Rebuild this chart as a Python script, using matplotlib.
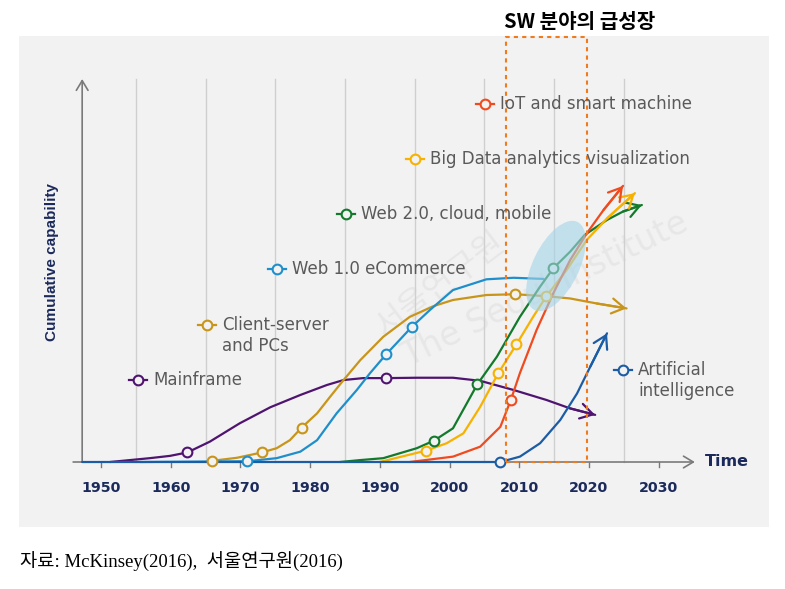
import matplotlib
matplotlib.use('Agg')
import matplotlib.pyplot as plt
from matplotlib.patches import Rectangle, Ellipse
from matplotlib.transforms import IdentityTransform

W, H = 785, 589

# 시리즈 데이터: 연도 / 누적 역량(0~100)
mainframe_x = [1951.3, 1957.0, 1959.9, 1962.4, 1965.6, 1969.9, 1974.3, 1978.6, 1982.4, 1984.8, 1987.6, 1990.9,
               1995.3, 2000.5, 2004.4, 2009.2, 2013.9, 2017.3, 2020.9]
mainframe_y = [0.0, 1.0, 1.6, 2.5, 5.3, 10.1, 14.3, 17.5, 20.1, 21.4, 21.9, 21.9,
               22.0, 22.0, 21.2, 18.8, 16.2, 14.0, 12.3]
mainframe_mx = [1962.4, 1990.9]
mainframe_my = [2.5, 21.9]

client_x = [1965.9, 1969.5, 1973.1, 1975.2, 1977.1, 1978.8, 1981.0, 1982.9, 1984.8, 1987.2, 1990.5, 1994.3,
            1997.7, 2000.5, 2005.3, 2009.4, 2013.9, 2017.3, 2021.1, 2025.4]
client_y = [0.3, 1.1, 2.5, 3.6, 5.7, 9.0, 12.7, 17.1, 21.4, 26.6, 32.7, 37.9,
            40.7, 42.3, 43.6, 43.8, 43.3, 42.7, 41.4, 40.1]
client_mx = [1965.9, 1973.1, 1978.8, 2009.4]
client_my = [0.3, 2.5, 9.0, 43.8]

web1_x = [1955.6, 1971.0, 1975.2, 1978.6, 1981.0, 1983.8, 1986.7, 1988.6, 1990.9, 1992.4, 1994.6, 1997.2,
          2000.5, 2005.3, 2009.2, 2013.5]
web1_y = [0.0, 0.2, 1.0, 2.7, 5.7, 12.7, 18.8, 23.2, 28.1, 31.0, 35.3, 39.7,
          44.9, 47.7, 48.1, 47.8]
web1_mx = [1971.0, 1990.9, 1994.6]
web1_my = [0.2, 28.1, 35.3]

web2_x = [1984.3, 1987.2, 1990.5, 1995.3, 1997.8, 2000.5, 2004.0, 2006.8, 2010.1, 2013.0, 2014.9, 2017.3,
          2019.4, 2022.6, 2024.9, 2027.6]
web2_y = [0.0, 0.5, 1.0, 3.6, 5.6, 8.8, 20.3, 27.5, 37.9, 45.8, 50.6, 54.9,
          59.3, 63.2, 65.4, 67.1]
web2_mx = [1997.8, 2004.0, 2014.9]
web2_my = [5.6, 20.3, 50.6]

bigdata_x = [1990.0, 1996.7, 1999.6, 2002.0, 2004.4, 2007.0, 2009.6, 2012.0, 2013.9, 2016.8, 2019.7, 2022.6, 2026.6]
bigdata_y = [0.0, 3.0, 4.9, 7.5, 14.4, 23.2, 30.7, 37.9, 43.3, 50.1, 58.0, 63.6, 70.2]
bigdata_mx = [1996.7, 2007.0, 2009.6, 2013.9]
bigdata_my = [3.0, 23.2, 30.7, 43.3]

iot_x = [1994.3, 2000.5, 2004.4, 2007.3, 2008.8, 2010.1, 2012.5, 2014.9, 2017.3, 2019.7, 2022.1, 2024.9]
iot_y = [0.0, 1.4, 4.0, 9.2, 16.2, 23.2, 34.5, 44.1, 52.7, 59.7, 65.8, 72.1]
iot_mx = [2008.8]
iot_my = [16.2]

ai_x = [1947.3, 2007.3, 2010.1, 2013.0, 2015.9, 2018.3, 2020.2, 2022.6]
ai_y = [0.0, 0.0, 1.4, 4.9, 11.0, 17.9, 24.9, 33.6]
ai_mx = [2007.3]
ai_my = [0.0]

decades = [1950, 1960, 1970, 1980, 1990, 2000, 2010, 2020, 2030]
grid_years = [1955, 1965, 1975, 1985, 1995, 2005, 2015, 2025]
sw_box = (2008.1, 2019.7)

NAVY = '#1b2a5a'
BG = '#f2f2f2'
GRAY_TXT = '#5a5a5a'

series = [
    (mainframe_x, mainframe_y, mainframe_mx, mainframe_my, '#4f1470', True, 3),
    (client_x, client_y, client_mx, client_my, '#c8951a', True, 3),
    (web1_x, web1_y, web1_mx, web1_my, '#1f8fcc', False, 3),
    (web2_x, web2_y, web2_mx, web2_my, '#137a2c', True, 3),
    (bigdata_x, bigdata_y, bigdata_mx, bigdata_my, '#f7b200', True, 3),
    (iot_x, iot_y, iot_mx, iot_my, '#f04b1f', True, 3),
    (ai_x, ai_y, ai_mx, ai_my, '#1c5ca4', True, 4),
]

fig = plt.figure(figsize=(W / 100, H / 100), dpi=100)
ax = fig.add_axes([0, 0, 1, 1])
# 픽셀 → 데이터 축 맞춤
ax.set_xlim(1950 - 101 / 6.97, 1950 + (W - 101) / 6.97)
ax.set_ylim((462 - H) / 3.83, 462 / 3.83)
ax.axis('off')


def fx(px):
    return px / W


def fy(py):
    return 1 - py / H


# 배경 패널
ax.add_patch(Rectangle((fx(19), fy(527)), (769 - 19) / W, (527 - 36) / H,
                       transform=fig.transFigure, color=BG, zorder=0, lw=0))

# 워터마크
ax.text(fx(440), fy(285), '서울연구원', rotation=37, fontsize=24, color='#e7e7e7',
        family=['Noto Sans CJK KR', 'DejaVu Sans'], ha='center', va='center', zorder=0.5,
        transform=fig.transFigure)
ax.text(fx(545), fy(290), 'The Seoul Institute', rotation=26, fontsize=24, color='#e7e7e7',
        ha='center', va='center', zorder=0.5, transform=fig.transFigure)

# 세로 그리드
for g in grid_years:
    ax.plot([g, g], [0, 100], color='#cfcfcf', lw=1, zorder=1)

# 축
ax.annotate('', xy=(2035.2, 0), xytext=(1946.0, 0),
            arrowprops=dict(arrowstyle='->,head_length=0.5,head_width=0.3', color='#7a7a7a',
                            lw=1.2, shrinkA=0, shrinkB=0, mutation_scale=14), zorder=2)
ax.annotate('', xy=(1947.3, 100), xytext=(1947.3, 0),
            arrowprops=dict(arrowstyle='->,head_length=0.5,head_width=0.3', color='#7a7a7a',
                            lw=1.2, shrinkA=0, shrinkB=0, mutation_scale=14), zorder=2)
for d in decades:
    ax.plot([d, d], [0, -1.4], color='#7a7a7a', lw=1, zorder=2)
    ax.text(d, -6.8, str(d), ha='center', va='center', fontsize=10.3, fontweight='bold', color=NAVY)

# 곡선
for xs, ys, mx, my, c, arrow, z in series:
    ax.plot(xs, ys, color=c, lw=1.6, zorder=z, solid_joinstyle='round', solid_capstyle='round')
    if arrow:
        ax.annotate('', xy=(xs[-1], ys[-1]), xytext=(xs[-2], ys[-2]),
                    arrowprops=dict(arrowstyle='->,head_length=0.5,head_width=0.3', color=c,
                                    lw=1.6, shrinkA=0, shrinkB=0, mutation_scale=18), zorder=z)
    ax.plot(mx, my, 'o', mfc=BG, mec=c, ms=7, mew=1.5, zorder=5)

# 강조 타원
ax.add_patch(Ellipse((556, H - 266), 98, 46, angle=64, transform=IdentityTransform(),
                     color='#a3d4e8', alpha=0.6, lw=0, zorder=6))

# SW 급성장 구간 박스
ax.add_patch(Rectangle((sw_box[0], 0), sw_box[1] - sw_box[0], 111,
                       fill=False, ec='#f07a1c', lw=1.5, ls=(0, (2, 2)), zorder=7))

# 시리즈 라벨
labels = [
    (485, 104, ['IoT and smart machine'], '#f04b1f'),
    (415, 159, ['Big Data analytics visualization'], '#f7b200'),
    (346, 214, ['Web 2.0, cloud, mobile'], '#137a2c'),
    (277, 269, ['Web 1.0 eCommerce'], '#1f8fcc'),
    (207, 325, ['Client-server', 'and PCs'], '#c8951a'),
    (138, 380, ['Mainframe'], '#4f1470'),
    (623, 370, ['Artificial', 'intelligence'], '#1c5ca4'),
]
for px, py, lines, c in labels:
    ax.plot([fx(px - 9), fx(px + 9)], [fy(py), fy(py)], color=c, lw=1.6,
            transform=fig.transFigure, zorder=8)
    ax.plot([fx(px)], [fy(py)], 'o', mfc=BG, mec=c, ms=7, mew=1.5,
            transform=fig.transFigure, zorder=9)
    for i, t in enumerate(lines):
        fig.text(fx(px + 15), fy(py + 21 * i), t, fontsize=12, color=GRAY_TXT,
                 ha='left', va='center')

fig.text(fx(705), fy(462), 'Time', fontsize=11.5, fontweight='bold', color=NAVY, va='center')
fig.text(fx(52), fy(262), 'Cumulative capability', rotation=90, fontsize=11,
         fontweight='bold', family=['Liberation Sans', 'DejaVu Sans'], color=NAVY,
         ha='center', va='center')
fig.text(fx(580), fy(22), 'SW 분야의 급성장', fontsize=14.5, fontweight='bold',
         family=['Noto Sans CJK KR', 'DejaVu Sans'], ha='center', va='center')
fig.text(fx(20), fy(562), '자료: McKinsey(2016),  서울연구원(2016)', fontsize=13.5,
         family=['Liberation Serif', 'Noto Sans CJK KR'], ha='left', va='center')

fig.savefig('out.png', dpi=100)
